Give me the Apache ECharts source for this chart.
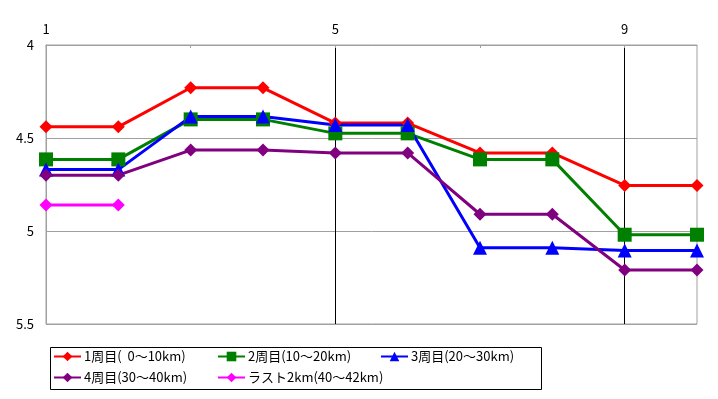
<!DOCTYPE html>
<html>
<head>
<meta charset="utf-8">
<script src="https://cdn.jsdelivr.net/npm/echarts@6/dist/echarts.min.js"></script>
<style>
  html, body { margin: 0; padding: 0; background: #fff; }
  #chart { width: 718px; height: 399px; }
</style>
</head>
<body>
<div id="chart"></div>
<script>
// 周回ごとのラップ (分/km)
const categories = ["1", "2", "3", "4", "5", "6", "7", "8", "9", "10"];
const lap1 = [4.44, 4.44, 4.23, 4.23, 4.42, 4.42, 4.58, 4.58, 4.755, 4.755];
const lap2 = [4.615, 4.615, 4.40, 4.40, 4.475, 4.475, 4.615, 4.615, 5.02, 5.02];
const lap3 = [4.67, 4.67, 4.385, 4.385, 4.43, 4.43, 5.09, 5.09, 5.105, 5.105];
const lap4 = [4.70, 4.70, 4.565, 4.565, 4.58, 4.58, 4.91, 4.91, 5.21, 5.21];
const last2 = [4.86, 4.86, null, null, null, null, null, null, null, null];
const yTicks = [4, 4.5, 5, 5.5];

const names = [
  "1周目(  0～10km)",
  "2周目(10～20km)",
  "3周目(20～30km)",
  "4周目(30～40km)",
  "ラスト2km(40～42km)",
];
const font = "'Noto Sans CJK JP', sans-serif";

const chart = echarts.init(document.getElementById("chart"));

function makeSeries(name, data, color, symbol, size) {
  return {
    name: name,
    type: "line",
    data: data,
    symbol: symbol,
    symbolSize: size,
    showAllSymbol: true,
    connectNulls: false,
    animation: false,
    lineStyle: { color: color, width: 3 },
    itemStyle: { color: color },
  };
}

// 凡例は列をそろえるため1項目ずつ配置
const legendPos = [
  [53, 350], [217, 350], [380, 350],
  [53, 371], [217, 371],
];
const legends = names.map((n, i) => ({
  data: [n],
  left: legendPos[i][0],
  top: legendPos[i][1],
  itemWidth: 27,
  itemHeight: 12,
  itemGap: 0,
  padding: 0,
  textStyle: { fontFamily: font, fontSize: 13, color: "#000", padding: [0, 0, 0, -2] },
  selectedMode: false,
}));

chart.setOption({
  backgroundColor: "#fff",
  animation: false,
  textStyle: { fontFamily: font },
  grid: {
    left: 46,
    right: 21,
    top: 45,
    bottom: 75,
    show: true,
    borderColor: "#a0a0a0",
    borderWidth: 1,
  },
  legend: legends,
  graphic: [
    {
      type: "rect",
      shape: { x: 50.5, y: 347.5, width: 491, height: 42 },
      style: { fill: null, stroke: "#000", lineWidth: 1 },
      z: -1,
    },
  ],
  xAxis: {
    type: "category",
    position: "top",
    data: categories,
    boundaryGap: false,
    axisLine: { show: true, lineStyle: { color: "#a0a0a0" } },
    axisTick: {
      show: true,
      inside: true,
      length: 3,
      interval: 1,
      lineStyle: { color: "#a0a0a0" },
    },
    axisLabel: {
      interval: 3,
      color: "#000",
      fontSize: 13,
      fontFamily: font,
      margin: 9,
    },
    splitLine: {
      show: true,
      interval: (i) => i === 4 || i === 8,
      lineStyle: { color: "#000", width: 1 },
    },
  },
  yAxis: {
    type: "value",
    inverse: true,
    min: yTicks[0],
    max: yTicks[yTicks.length - 1],
    interval: 0.5,
    axisLine: { show: true, lineStyle: { color: "#a0a0a0" } },
    axisTick: { show: false },
    axisLabel: {
      color: "#000",
      fontSize: 13,
      fontFamily: font,
      margin: 12,
    },
    splitLine: { show: true, lineStyle: { color: "#a0a0a0", width: 1 } },
  },
  series: [
    makeSeries(names[0], lap1, "#ff0000", "diamond", 13),
    makeSeries(names[1], lap2, "#008000", "rect", 14),
    makeSeries(names[2], lap3, "#0000ff", "triangle", 14),
    makeSeries(names[3], lap4, "#800080", "diamond", 13),
    makeSeries(names[4], last2, "#ff00ff", "diamond", 13),
  ],
});
window.addEventListener("resize", chart.resize);
</script>
</body>
</html>
